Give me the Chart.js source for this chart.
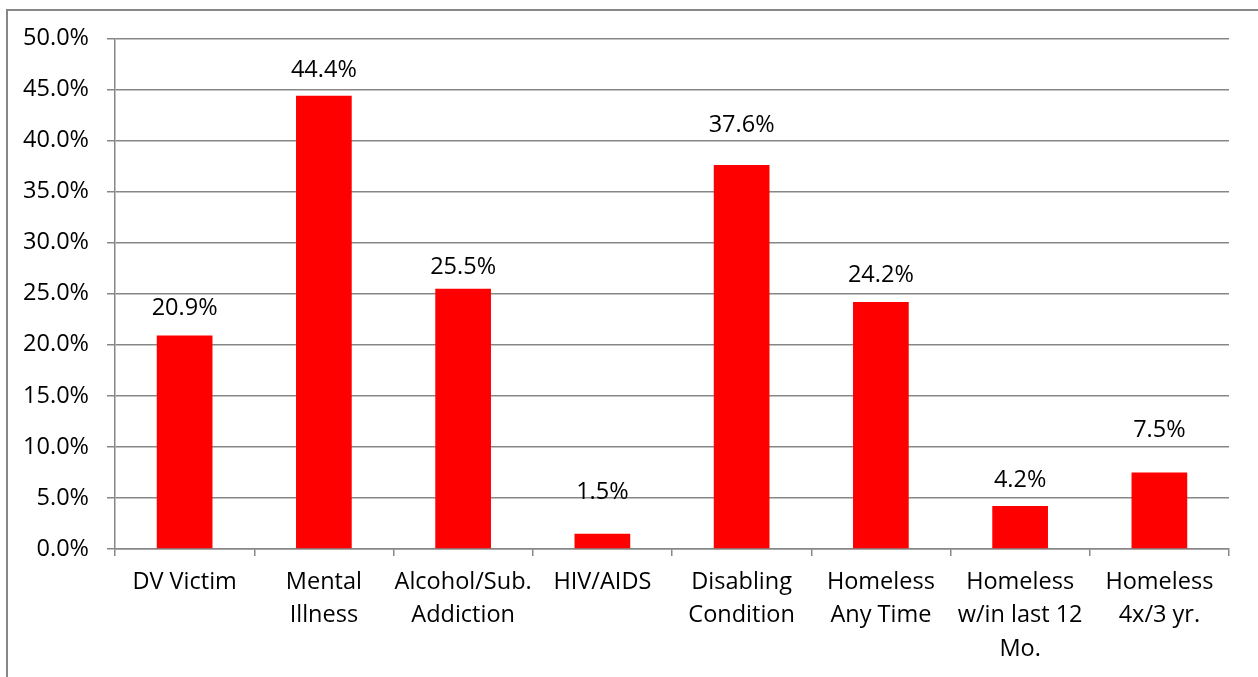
<!DOCTYPE html>
<html>
<head>
<meta charset="utf-8">
<script src="https://cdn.jsdelivr.net/npm/chart.js@4"></script>
<style>
  html, body { margin: 0; padding: 0; background: #ffffff; }
  #wrap { width: 1258px; height: 677px; position: relative; }
</style>
</head>
<body>
<div id="wrap"><canvas id="c" width="1258" height="677"></canvas></div>
<script>
const categories = [
  ['DV Victim'],
  ['Mental', 'Illness'],
  ['Alcohol/Sub.', 'Addiction'],
  ['HIV/AIDS'],
  ['Disabling', 'Condition'],
  ['Homeless', 'Any Time'],
  ['Homeless', 'w/in last 12', 'Mo.'],
  ['Homeless', '4x/3 yr.']
];
const values = [20.9, 44.4, 25.5, 1.5, 37.6, 24.2, 4.2, 7.5];
const yMin = 0, yMax = 50, yStep = 5;

// label vertical offsets above bar tops (style only)
const labelOffsets = [27, 25, 21, 41, 40, 27, 26, 42];

const FONT = '"Open Sans", "Liberation Sans", sans-serif';
const FSIZE = 23.5;
const GRID = '#878787';

const frame = {
  id: 'frame',
  beforeDraw(chart) {
    const ctx = chart.ctx;
    ctx.save();
    ctx.fillStyle = '#ffffff';
    ctx.fillRect(0, 0, chart.width, chart.height);
    ctx.strokeStyle = GRID;
    ctx.lineWidth = 2;
    ctx.beginPath();
    ctx.moveTo(7, chart.height);
    ctx.lineTo(7, 10);
    ctx.lineTo(chart.width, 10);
    ctx.stroke();
    ctx.restore();
  }
};

const valueLabels = {
  id: 'valueLabels',
  afterDatasetsDraw(chart) {
    const ctx = chart.ctx;
    const meta = chart.getDatasetMeta(0);
    ctx.save();
    ctx.font = FSIZE + 'px ' + FONT;
    ctx.fillStyle = '#000000';
    ctx.textAlign = 'center';
    ctx.textBaseline = 'middle';
    meta.data.forEach((bar, i) => {
      const v = chart.data.datasets[0].data[i];
      ctx.fillText(v.toFixed(1) + '%', bar.x, bar.y - labelOffsets[i]);
    });
    ctx.restore();
  }
};

new Chart(document.getElementById('c'), {
  type: 'bar',
  data: {
    labels: categories,
    datasets: [{
      data: values,
      backgroundColor: '#ff0000',
      borderWidth: 0,
      barPercentage: 0.4,
      categoryPercentage: 1.0
    }]
  },
  options: {
    responsive: false,
    animation: false,
    devicePixelRatio: 1,
    layout: { padding: { left: 0, top: 38.5, right: 29, bottom: 0 } },
    plugins: {
      legend: { display: false },
      tooltip: { enabled: false },
      title: { display: false }
    },
    scales: {
      x: {
        afterFit(scale) { scale.height = 677 - 549; },
        grid: {
          offset: true,
          drawOnChartArea: false,
          drawTicks: true,
          tickLength: 7,
          color: GRID,
          lineWidth: 1.5
        },
        border: { color: GRID, width: 1.5 },
        ticks: {
          color: '#000000',
          font: { family: FONT, size: FSIZE, lineHeight: 1.41 },
          padding: 10,
          maxRotation: 0,
          autoSkip: false
        }
      },
      y: {
        min: yMin,
        max: yMax,
        afterFit(scale) { scale.width = 115; },
        grid: {
          color: GRID,
          lineWidth: 1.5,
          drawTicks: true,
          tickLength: 8
        },
        border: { color: GRID, width: 1.5 },
        ticks: {
          stepSize: yStep,
          color: '#000000',
          font: { family: FONT, size: FSIZE },
          padding: 18,
          callback: (v) => Number(v).toFixed(1) + '%'
        }
      }
    }
  },
  plugins: [frame, valueLabels]
});
</script>
</body>
</html>
